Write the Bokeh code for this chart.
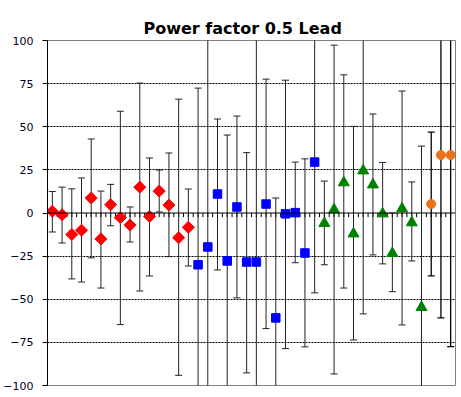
import numpy as np
from bokeh.plotting import figure
from bokeh.models import Range1d, FixedTicker, Span, Title
from bokeh.embed import file_html
from bokeh.resources import INLINE

# ---- data ----
red_val = [1, -1, -12.5, -10, 8.7, -15, 4.8, -2.7, -7, 15, -2, 12.7, 4.6, -14.3, -8.3]
red_hi = [12.5, 15, 14, 20.3, 42.9, 12.7, 16.6, 59, 3.5, 75.3, 31.9, 24.9, 34.8, 66, 13.9]
red_lo = [-11, -17.4, -38.2, -40, -26, -43.5, -7.4, -64.7, -16.8, -45.2, -36.5, 0.6, -25.3, -94.1, -30.7]

blue_val = [-30, -19.7, 11, -27.8, 3.5, -28.4, -28.4, 5.2, -60.8, -0.5, 0.2, -23.2, 29.5]
blue_hi = [72.4, 120, 54.5, 45.2, 56.2, 35.0, 120, 77.6, 8.7, 77, 29.5, 31.4, 120]
blue_lo = [-120, -120, -33, -120, -49.2, -92.7, -120, -67, -120, -78.6, -28.8, -77.6, -46.3]

green_val = [-6, 1.9, 17.6, -12, 24.5, 16.4, -0.4, -23.4, 2.5, -5.6, -54.7]
green_hi = [18.5, 97.3, 80.1, 50.2, 120, 57.4, 29.3, 0, 70.7, 18, 38.8]
green_lo = [-30, -93.3, -43.5, -73.6, -58.5, -24.3, -29.5, -45.6, -64.9, -27.8, -120]

orange_val = [5.2, 33.6, 33.6]
orange_hi = [46.9, 120, 120]
orange_lo = [-36.5, -60.8, -77.5]

y_ticks = [-100, -75, -50, -25, 0, 25, 50, 75, 100]
grid_ticks = [-75, -50, -25, 25, 50, 75]
title_text = "Power factor 0.5 Lead"

# positions along the category axis
n_red, n_blue, n_green, n_orange = len(red_val), len(blue_val), len(green_val), len(orange_val)
n_all = n_red + n_blue + n_green + n_orange
x_red = list(range(1, n_red + 1))
x_blue = list(range(n_red + 1, n_red + n_blue + 1))
x_green = list(range(n_red + n_blue + 1, n_red + n_blue + n_green + 1))
x_orange = list(range(n_red + n_blue + n_green + 1, n_all + 1))

p = figure(width=460, height=396, output_backend="svg", toolbar_location=None,
           x_range=Range1d(0.5, n_all + 0.5), y_range=Range1d(-100, 100),
           x_axis_location=None, min_border_left=47, min_border_right=5,
           min_border_top=40, min_border_bottom=11)

p.title = Title(text=title_text, align="left", offset=96, vertical_align="top",
                text_font="DejaVu Sans", text_font_size="16px",
                text_font_style="bold", text_color="#000000", standoff=1)

p.background_fill_color = "white"
p.border_fill_color = "white"
p.outline_line_color = "#808080"
p.outline_line_width = 1

p.xgrid.grid_line_color = None
p.ygrid.ticker = FixedTicker(ticks=grid_ticks)
p.ygrid.grid_line_color = "black"
p.ygrid.grid_line_dash = "2 1"
p.ygrid.grid_line_width = 1

ax = p.yaxis[0]
ax.ticker = FixedTicker(ticks=y_ticks)
ax.axis_line_color = "black"
ax.major_tick_line_color = "black"
ax.major_tick_out = 5
ax.major_tick_in = 0
ax.minor_tick_line_color = None
ax.major_label_standoff = 9
ax.major_label_text_font = "DejaVu Sans"
ax.major_label_text_font_size = "11px"
ax.major_label_text_color = "#000022"

# zero line with small tick marks
p.add_layout(Span(location=0, dimension="width", line_color="black", line_width=1))
tx = np.arange(1.0, n_all + 0.5, 0.5)
p.segment(x0=tx, y0=np.zeros_like(tx), x1=tx, y1=np.full_like(tx, -2.4),
          line_color="black", line_width=1)

def series(xs, val, hi, lo, marker, color, size, angle=0.0, bar_color="#222222", bar_w=1):
    p.segment(x0=xs, y0=lo, x1=xs, y1=hi, line_color=bar_color, line_width=bar_w)
    p.scatter(x=xs, y=hi, marker="dash", size=7, line_color=bar_color, line_width=bar_w)
    p.scatter(x=xs, y=lo, marker="dash", size=7, line_color=bar_color, line_width=bar_w)
    p.scatter(x=xs, y=val, marker=marker, size=size, fill_color=color,
              line_color=color, angle=angle)

series(x_red, red_val, red_hi, red_lo, "square", "#FF0000", 8.5, angle=np.pi / 4)
series(x_blue, blue_val, blue_hi, blue_lo, "square", "#0000FF", 8.5)
series(x_green, green_val, green_hi, green_lo, "triangle", "#008000", 11)
series(x_orange, orange_val, orange_hi, orange_lo, "circle", "#E8731A", 9,
       bar_color="#000000", bar_w=1.3)

open("out.html", "w").write(file_html(p, INLINE))
